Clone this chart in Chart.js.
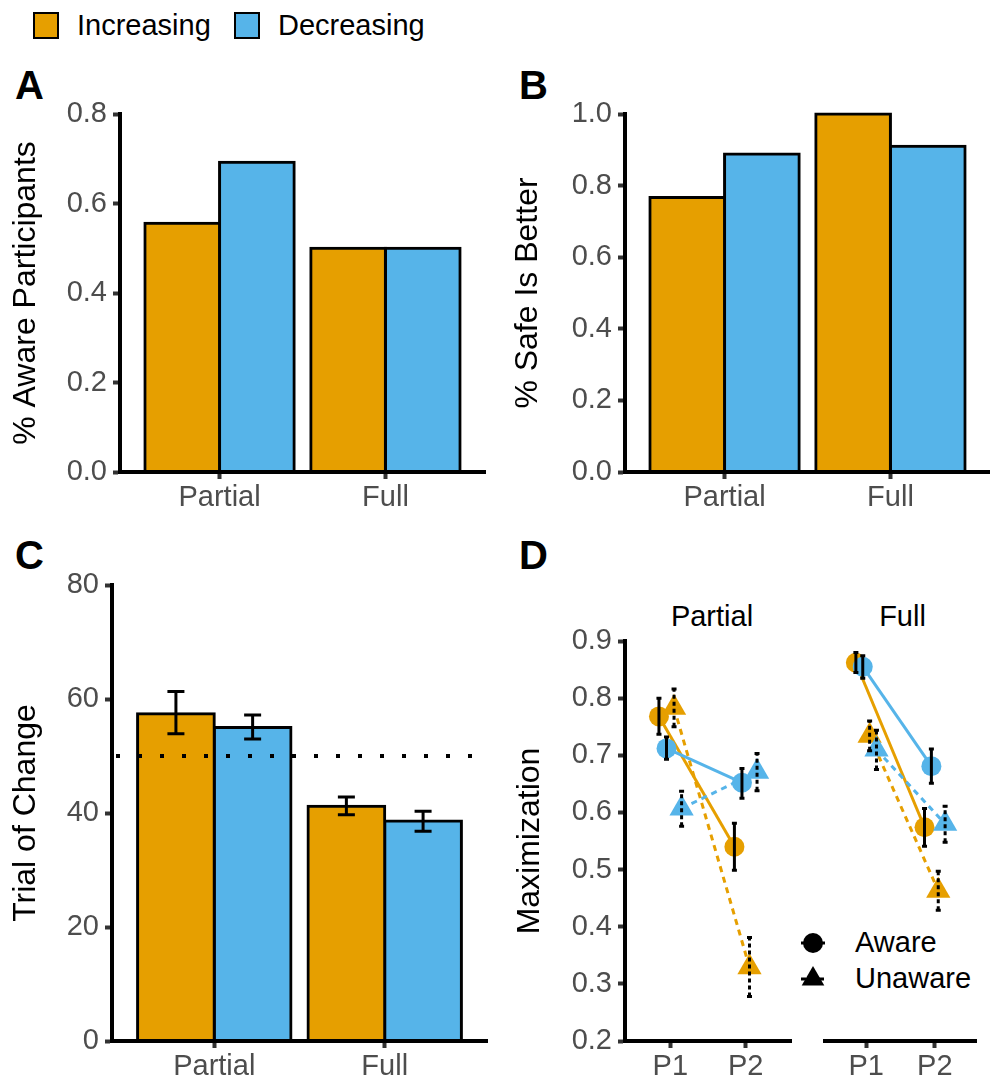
<!DOCTYPE html>
<html>
<head>
<meta charset="utf-8">
<title>Awareness, preference, change trial and maximization</title>
<script src="https://cdn.jsdelivr.net/npm/chart.js@4.4.0/dist/chart.umd.min.js"></script>
<style>
  html, body { margin: 0; padding: 0; background: #fff; }
  #fig { position: relative; width: 990px; height: 1081px; overflow: hidden;
         font-family: "Liberation Sans", Arial, sans-serif; }
  #fig canvas { position: absolute; }
  .abs { position: absolute; line-height: 1; white-space: nowrap; }
  .tag { font-weight: bold; font-size: 40px; color: #000; }
  .txt { font-size: 29px; color: #000; }
  .key { width: 26px; height: 27px; box-sizing: border-box; border: 2px solid #000; }
</style>
</head>
<body>
<div id="fig">
  <!-- shared fill legend -->
  <div class="abs key" style="left:33px; top:12px; background:#E69F00;"></div>
  <div class="abs txt" style="left:77px; top:11px;">Increasing</div>
  <div class="abs key" style="left:234px; top:12px; background:#56B4E9;"></div>
  <div class="abs txt" style="left:278px; top:11px;">Decreasing</div>

  <!-- panel tags -->
  <div class="abs tag" style="left:15px; top:65px;">A</div>
  <div class="abs tag" style="left:519px; top:65px;">B</div>
  <div class="abs tag" style="left:15px; top:535px;">C</div>
  <div class="abs tag" style="left:519px; top:535px;">D</div>

  <!-- facet strips of panel D -->
  <div class="abs txt" style="left:625px; top:602px; width:174px; text-align:center;">Partial</div>
  <div class="abs txt" style="left:815px; top:602px; width:175px; text-align:center;">Full</div>

  <!-- shape legend of panel D -->
  <svg class="abs" style="left:799px; top:931px;" width="30" height="64">
    <line x1="2" y1="12" x2="26" y2="12" stroke="#000" stroke-width="3"/>
    <circle cx="14" cy="12" r="10" fill="#000"/>
    <line x1="2" y1="48" x2="26" y2="48" stroke="#000" stroke-width="3" stroke-dasharray="5 4"/>
    <polygon points="14,35 25.3,54.5 2.7,54.5" fill="#000"/>
  </svg>
  <div class="abs txt" style="left:855px; top:928px;">Aware</div>
  <div class="abs txt" style="left:855px; top:964px;">Unaware</div>

  <canvas id="chartA"></canvas>
  <canvas id="chartB"></canvas>
  <canvas id="chartC"></canvas>
  <canvas id="chartD1"></canvas>
  <canvas id="chartD2"></canvas>
</div>

<script>
// ---- data ----
const groups = ['Partial', 'Full'];
const conditions = ['Increasing', 'Decreasing'];
const colors = ['#E69F00', '#56B4E9'];

// A: share of aware participants
const awareInc = [0.556, 0.5];
const awareDec = [0.692, 0.5];
const awareTicks = ['0.0', '0.2', '0.4', '0.6', '0.8'];

// B: share choosing "safe is better"
const safeInc = [0.767, 1.0];
const safeDec = [0.888, 0.910];
const safeTicks = ['0.0', '0.2', '0.4', '0.6', '0.8', '1.0'];

// C: trial of change (mean +/- se)
const changeInc = [57.4, 41.2];
const changeIncLo = [53.9, 39.7];
const changeIncHi = [61.3, 42.8];
const changeDec = [55.0, 38.6];
const changeDecLo = [53.0, 36.8];
const changeDecHi = [57.2, 40.3];
const changeTicks = ['0', '20', '40', '60', '80'];
const chanceLevel = 50;

// D: maximization per period, by awareness
const periods = ['P1', 'P2'];
const maxTicks = ['0.2', '0.3', '0.4', '0.5', '0.6', '0.7', '0.8', '0.9'];

const partialIncAware = [0.768, 0.540];
const partialIncAwareLo = [0.737, 0.499];
const partialIncAwareHi = [0.800, 0.581];
const partialDecAware = [0.712, 0.652];
const partialDecAwareLo = [0.693, 0.625];
const partialDecAwareHi = [0.732, 0.677];
const partialIncUnaware = [0.783, 0.329];
const partialIncUnawareLo = [0.750, 0.278];
const partialIncUnawareHi = [0.816, 0.381];
const partialDecUnaware = [0.607, 0.671];
const partialDecUnawareLo = [0.576, 0.638];
const partialDecUnawareHi = [0.637, 0.703];

const fullIncAware = [0.862, 0.574];
const fullIncAwareLo = [0.845, 0.541];
const fullIncAwareHi = [0.880, 0.607];
const fullDecAware = [0.855, 0.681];
const fullDecAwareLo = [0.835, 0.651];
const fullDecAwareHi = [0.874, 0.711];
const fullIncUnaware = [0.734, 0.463];
const fullIncUnawareLo = [0.708, 0.429];
const fullIncUnawareHi = [0.760, 0.497];
const fullDecUnaware = [0.710, 0.580];
const fullDecUnawareLo = [0.675, 0.548];
const fullDecUnawareHi = [0.744, 0.611];

// order of the four groups inside a period and their dodge offsets
const dodge = [-0.15, -0.05, 0.05, 0.15];

// ---- chart setup ----
Chart.defaults.font.family = '"Liberation Sans", Arial, sans-serif';
Chart.defaults.color = '#4D4D4D';

const TICK_FONT = { size: 29 };
const TITLE_FONT = { size: 32 };

function placeCanvas(id, box) {
  const c = document.getElementById(id);
  c.width = box.w;
  c.height = box.h;
  c.style.left = box.left + 'px';
  c.style.top = box.top + 'px';
  return c;
}

function framePadding(box, plot, withY) {
  return {
    left: withY ? 0 : plot.left - box.left,
    top: plot.top - box.top,
    right: box.left + box.w - plot.right,
    bottom: 0
  };
}

const axisGrid = {
  offset: false, drawOnChartArea: false, drawTicks: true,
  tickLength: 7, tickWidth: 4, tickColor: '#333', color: '#333'
};
const axisBorder = { display: true, color: '#000', width: 4, z: 1 };

// discrete axis drawn on a linear scale so the ggplot expansion can be kept
function discreteAxis(labels, height) {
  return {
    type: 'linear', min: 0.4, max: 2.6, bounds: 'data', offset: false,
    afterBuildTicks: ax => { ax.ticks = labels.map((l, i) => ({ value: i + 1 })); },
    afterFit: ax => { ax.height = height; },
    ticks: { callback: (v, i) => labels[i], font: TICK_FONT, color: '#4D4D4D',
             padding: 2, autoSkip: false, maxRotation: 0, minRotation: 0 },
    grid: axisGrid,
    border: axisBorder
  };
}

function valueAxis(tickLabels, width, title, titlePad, show) {
  return {
    type: 'linear', display: show,
    min: Number(tickLabels[0]), max: Number(tickLabels[tickLabels.length - 1]), bounds: 'data',
    afterBuildTicks: ax => { ax.ticks = tickLabels.map(t => ({ value: Number(t) })); },
    afterFit: ax => { ax.width = width; },
    ticks: { callback: (v, i) => tickLabels[i], font: TICK_FONT, color: '#4D4D4D',
             padding: 6, autoSkip: false },
    grid: axisGrid,
    border: axisBorder,
    title: { display: !!title, text: title, color: '#000', font: TITLE_FONT,
             padding: { top: titlePad, bottom: 0 } }
  };
}

// vertical error bars read from dataset.errLo / dataset.errHi
const errorBars = {
  id: 'errorBars',
  afterDatasetsDraw(chart) {
    const ctx = chart.ctx;
    const y = chart.scales.y;
    chart.data.datasets.forEach((ds, di) => {
      if (!ds.errLo) return;
      const meta = chart.getDatasetMeta(di);
      ctx.save();
      ctx.strokeStyle = '#000';
      ctx.lineWidth = ds.errWidth;
      meta.data.forEach((el, i) => {
        const x = el.x;
        const lo = y.getPixelForValue(ds.errLo[i]);
        const hi = y.getPixelForValue(ds.errHi[i]);
        ctx.setLineDash(ds.errDash || []);
        ctx.beginPath();
        ctx.moveTo(x, lo);
        ctx.lineTo(x, hi);
        ctx.stroke();
        ctx.setLineDash([]);
        ctx.beginPath();
        ctx.moveTo(x - ds.errCap, lo);
        ctx.lineTo(x + ds.errCap, lo);
        ctx.moveTo(x - ds.errCap, hi);
        ctx.lineTo(x + ds.errCap, hi);
        ctx.stroke();
      });
      ctx.restore();
    });
  }
};

// dotted reference line (chance level) in panel C
const chanceLine = {
  id: 'chanceLine',
  afterDatasetsDraw(chart) {
    const { ctx, chartArea } = chart;
    const yy = chart.scales.y.getPixelForValue(chanceLevel);
    ctx.save();
    ctx.strokeStyle = '#000';
    ctx.lineWidth = 4;
    ctx.setLineDash([4, 18]);
    ctx.lineDashOffset = -4;
    ctx.beginPath();
    ctx.moveTo(chartArea.left, yy);
    ctx.lineTo(chartArea.right, yy);
    ctx.stroke();
    ctx.restore();
  }
};

// outline centred on the bar edge: border drawn inside, bar inflated by half of it
function barDataset(k, values, lo, hi) {
  const ds = {
    label: conditions[k],
    data: groups.map((g, i) => ({ x: i + 1, y: values[i] })),
    backgroundColor: colors[k],
    borderColor: '#000',
    borderWidth: 3,
    inflateAmount: 1.5,
    borderSkipped: 'start',
    clip: false
  };
  if (lo) {
    ds.errLo = lo; ds.errHi = hi;
    ds.errWidth = 3; ds.errCap = 8.5;
  }
  return ds;
}

function barChart(id, box, plot, datasets, tickLabels, title, titlePad, extra) {
  const canvas = placeCanvas(id, box);
  return new Chart(canvas, {
    type: 'bar',
    data: { datasets: datasets },
    options: {
      responsive: false, maintainAspectRatio: false, animation: false, devicePixelRatio: 1,
      layout: { padding: framePadding(box, plot, true) },
      categoryPercentage: 0.9, barPercentage: 1.0,
      scales: {
        x: discreteAxis(groups, box.top + box.h - plot.bottom),
        y: valueAxis(tickLabels, plot.left - box.left, title, titlePad, true)
      },
      plugins: { legend: { display: false }, tooltip: { enabled: false } }
    },
    plugins: extra || []
  });
}

// A
barChart('chartA',
  { left: 0, top: 90, w: 495, h: 440 },
  { left: 120, top: 114, right: 485, bottom: 472 },
  [barDataset(0, awareInc), barDataset(1, awareDec)],
  awareTicks, '% Aware Participants', 7);

// B
barChart('chartB',
  { left: 500, top: 90, w: 490, h: 440 },
  { left: 625, top: 114, right: 990, bottom: 472 },
  [barDataset(0, safeInc), barDataset(1, safeDec)],
  safeTicks, '% Safe Is Better', 9);

// C
barChart('chartC',
  { left: 0, top: 560, w: 495, h: 521 },
  { left: 112, top: 585, right: 487, bottom: 1041 },
  [barDataset(0, changeInc, changeIncLo, changeIncHi),
   barDataset(1, changeDec, changeDecLo, changeDecHi)],
  changeTicks, 'Trial of Change', 7, [chanceLine, errorBars]);

// D: one chart per facet
function facetDatasets(means, lows, highs) {
  const out = [];
  means.forEach((m, k) => {
    const aware = k < 2;
    const col = colors[k % 2];
    const pts = periods.map((p, i) => ({ x: i + 1 + dodge[k], y: m[i] }));
    out.push({
      data: pts, borderColor: col, borderWidth: 3,
      borderDash: aware ? [] : [6, 5], pointRadius: 0, tension: 0,
      order: 20 - k, clip: false
    });
    out.push({
      data: pts, showLine: false,
      pointStyle: aware ? 'circle' : 'triangle',
      pointRadius: aware ? 10 : 14,
      pointBackgroundColor: col, pointBorderColor: col, pointBorderWidth: 0,
      order: 10 - k, clip: false,
      errLo: lows[k], errHi: highs[k], errWidth: 3, errCap: 2.5,
      errDash: aware ? [] : [4, 3]
    });
  });
  return out;
}

function facetChart(id, box, plot, datasets, withY) {
  const canvas = placeCanvas(id, box);
  return new Chart(canvas, {
    type: 'line',
    data: { datasets: datasets },
    options: {
      responsive: false, maintainAspectRatio: false, animation: false, devicePixelRatio: 1,
      layout: { padding: framePadding(box, plot, withY) },
      scales: {
        x: discreteAxis(periods, box.top + box.h - plot.bottom),
        y: valueAxis(maxTicks, plot.left - box.left, withY ? 'Maximization' : '', 11, withY)
      },
      plugins: { legend: { display: false }, tooltip: { enabled: false } }
    },
    plugins: [errorBars]
  });
}

facetChart('chartD1',
  { left: 500, top: 615, w: 305, h: 466 },
  { left: 625, top: 641, right: 799, bottom: 1041 },
  facetDatasets(
    [partialIncAware, partialDecAware, partialIncUnaware, partialDecUnaware],
    [partialIncAwareLo, partialDecAwareLo, partialIncUnawareLo, partialDecUnawareLo],
    [partialIncAwareHi, partialDecAwareHi, partialIncUnawareHi, partialDecUnawareHi]),
  true);

facetChart('chartD2',
  { left: 805, top: 615, w: 185, h: 466 },
  { left: 815, top: 641, right: 990, bottom: 1041 },
  facetDatasets(
    [fullIncAware, fullDecAware, fullIncUnaware, fullDecUnaware],
    [fullIncAwareLo, fullDecAwareLo, fullIncUnawareLo, fullDecUnawareLo],
    [fullIncAwareHi, fullDecAwareHi, fullIncUnawareHi, fullDecUnawareHi]),
  false);
</script>
</body>
</html>
